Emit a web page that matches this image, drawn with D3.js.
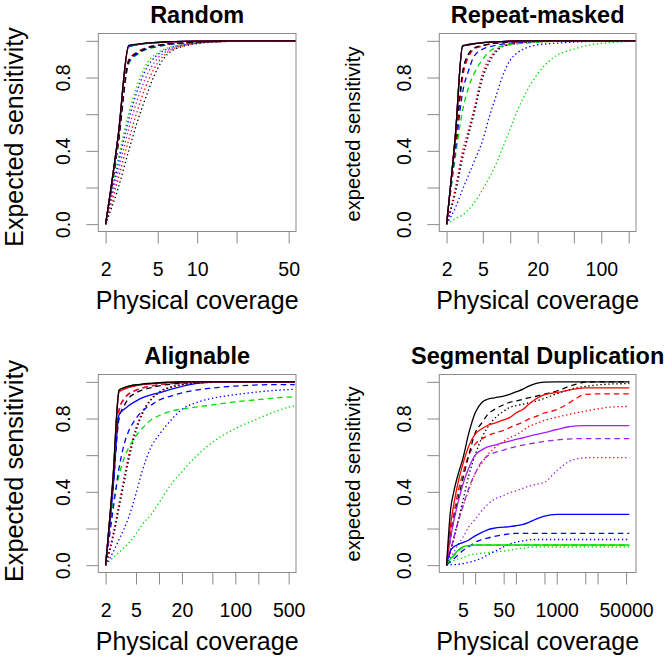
<!DOCTYPE html>
<html><head><meta charset="utf-8">
<script src="https://cdn.jsdelivr.net/npm/d3@7"></script>
<style>
body{margin:0;background:#fff}
svg{display:block}
text{font-family:"Liberation Sans",Arial,Helvetica,sans-serif;fill:#000}
</style>
</head><body>
<svg id="chart" width="672" height="661"></svg>
<script>
// ---------------- DATA ----------------
// colour order of every series array below
const seriesColors = ["black", "red", "purple", "blue", "green"];
const lineTypes = ["solid", "dashed", "dotted"];

const panelTitles = ["Random", "Repeat-masked", "Alignable", "Segmental Duplication"];
const yAxisLabels = ["Expected sensitivity", "expected sensitivity", "Expected sensitivity", "expected sensitivity"];
const xAxisLabel = "Physical coverage";
const yTicks = [0, 0.2, 0.4, 0.6, 0.8, 1];
const yTickLabels = [0, 0.4, 0.8];

// Random
const randomX = [2, 2.5, 3, 3.5, 4, 5, 6, 8, 10, 15, 20, 30, 50, 60];
const randomXTicks = [2, 5, 10, 20, 50];
const randomXTickLabels = [2, 5, 10, 50];
const randomSolid = [
  [0, 0.49, 0.975, 0.982, 0.987, 0.992, 0.995, 0.997, 0.998, 0.999, 1, 1, 1, 1],
  [0, 0.487, 0.972, 0.981, 0.986, 0.991, 0.994, 0.997, 0.998, 0.999, 1, 1, 1, 1],
  [0, 0.487, 0.972, 0.981, 0.986, 0.991, 0.994, 0.997, 0.998, 0.999, 1, 1, 1, 1],
  [0, 0.485, 0.968, 0.979, 0.985, 0.991, 0.994, 0.997, 0.998, 0.999, 1, 1, 1, 1],
  [0, 0.485, 0.968, 0.979, 0.985, 0.991, 0.994, 0.997, 0.998, 0.999, 1, 1, 1, 1]
];
const randomDashed = [
  [0, 0.45, 0.89, 0.935, 0.958, 0.975, 0.983, 0.99, 0.994, 0.998, 0.999, 1, 1, 1],
  [0, 0.45, 0.895, 0.94, 0.96, 0.976, 0.984, 0.99, 0.994, 0.998, 0.999, 1, 1, 1],
  [0, 0.45, 0.893, 0.938, 0.959, 0.975, 0.984, 0.99, 0.994, 0.998, 0.999, 1, 1, 1],
  [0, 0.44, 0.88, 0.93, 0.952, 0.97, 0.98, 0.988, 0.993, 0.997, 0.999, 1, 1, 1],
  [0, 0.44, 0.875, 0.925, 0.95, 0.968, 0.979, 0.988, 0.993, 0.997, 0.999, 1, 1, 1]
];
const randomDotted = [
  [0, 0.2, 0.4, 0.56, 0.68, 0.85, 0.93, 0.972, 0.985, 0.995, 0.998, 1, 1, 1],
  [0, 0.25, 0.46, 0.62, 0.74, 0.88, 0.94, 0.975, 0.987, 0.995, 0.998, 1, 1, 1],
  [0, 0.29, 0.52, 0.68, 0.79, 0.905, 0.948, 0.977, 0.988, 0.996, 0.999, 1, 1, 1],
  [0, 0.33, 0.57, 0.73, 0.835, 0.925, 0.957, 0.98, 0.989, 0.996, 0.999, 1, 1, 1],
  [0, 0.36, 0.6, 0.76, 0.86, 0.935, 0.962, 0.982, 0.99, 0.997, 0.999, 1, 1, 1]
];

// Repeat-masked
const maskedX = [2, 2.5, 3, 3.5, 4, 5, 6, 7, 8, 10, 12, 15, 20, 30, 50, 70, 100, 150, 200, 250];
const maskedXTicks = [2, 5, 10, 20, 50, 100, 200];
const maskedXTickLabels = [2, 5, 20, 100];
const maskedSolid = [
  [0, 0.487, 0.974, 0.98, 0.985, 0.99, 0.993, 0.995, 0.996, 0.998, 0.999, 1, 1, 1, 1, 1, 1, 1, 1, 1],
  [0, 0.487, 0.974, 0.98, 0.985, 0.99, 0.993, 0.995, 0.996, 0.998, 0.999, 1, 1, 1, 1, 1, 1, 1, 1, 1],
  [0, 0.487, 0.974, 0.98, 0.985, 0.99, 0.993, 0.995, 0.996, 0.998, 0.999, 1, 1, 1, 1, 1, 1, 1, 1, 1],
  [0, 0.485, 0.97, 0.978, 0.984, 0.99, 0.993, 0.995, 0.996, 0.998, 0.999, 1, 1, 1, 1, 1, 1, 1, 1, 1],
  [0, 0.485, 0.97, 0.978, 0.984, 0.99, 0.993, 0.995, 0.996, 0.998, 0.999, 1, 1, 1, 1, 1, 1, 1, 1, 1]
];
const maskedDashed = [
  [0, 0.45, 0.83, 0.93, 0.96, 0.975, 0.984, 0.988, 0.99, 0.994, 0.996, 0.997, 0.998, 1, 1, 1, 1, 1, 1, 1],
  [0, 0.43, 0.8, 0.915, 0.955, 0.972, 0.982, 0.987, 0.99, 0.993, 0.995, 0.997, 0.998, 1, 1, 1, 1, 1, 1, 1],
  [0, 0.44, 0.82, 0.925, 0.958, 0.974, 0.983, 0.987, 0.99, 0.994, 0.996, 0.997, 0.998, 1, 1, 1, 1, 1, 1, 1],
  [0, 0.4, 0.72, 0.84, 0.915, 0.955, 0.968, 0.976, 0.981, 0.988, 0.991, 0.994, 0.997, 0.999, 1, 1, 1, 1, 1, 1],
  [0, 0.37, 0.62, 0.75, 0.82, 0.9, 0.945, 0.962, 0.97, 0.979, 0.984, 0.988, 0.993, 0.997, 0.999, 1, 1, 1, 1, 1]
];
const maskedDotted = [
  [0, 0.17, 0.36, 0.49, 0.6, 0.8, 0.89, 0.94, 0.965, 0.98, 0.986, 0.991, 0.995, 0.998, 1, 1, 1, 1, 1, 1],
  [0, 0.2, 0.4, 0.52, 0.63, 0.83, 0.91, 0.95, 0.97, 0.982, 0.987, 0.992, 0.995, 0.998, 1, 1, 1, 1, 1, 1],
  [0, 0.19, 0.38, 0.505, 0.615, 0.815, 0.9, 0.945, 0.968, 0.981, 0.987, 0.992, 0.995, 0.998, 1, 1, 1, 1, 1, 1],
  [0, 0.09, 0.19, 0.27, 0.34, 0.46, 0.6, 0.7, 0.79, 0.895, 0.935, 0.962, 0.978, 0.986, 0.993, 0.996, 0.998, 1, 1, 1],
  [0, 0.03, 0.05, 0.08, 0.115, 0.19, 0.26, 0.33, 0.4, 0.52, 0.62, 0.72, 0.82, 0.91, 0.955, 0.975, 0.986, 0.993, 0.997, 0.998]
];

// Alignable
const alignX = [2, 2.5, 3, 3.5, 4, 5, 6, 8, 10, 15, 20, 30, 50, 70, 100, 200, 300, 500, 600];
const alignXTicks = [2, 5, 10, 20, 50, 100, 200, 500];
const alignXTickLabels = [2, 5, 20, 100, 500];
const alignSolid = [
  [0, 0.477, 0.955, 0.968, 0.976, 0.984, 0.988, 0.992, 0.995, 0.998, 0.999, 1, 1, 1, 1, 1, 1, 1, 1],
  [0, 0.472, 0.945, 0.96, 0.97, 0.98, 0.985, 0.99, 0.994, 0.997, 0.999, 1, 1, 1, 1, 1, 1, 1, 1],
  [0, 0.472, 0.945, 0.96, 0.97, 0.98, 0.985, 0.99, 0.994, 0.997, 0.999, 1, 1, 1, 1, 1, 1, 1, 1],
  [0, 0.41, 0.82, 0.85, 0.87, 0.895, 0.912, 0.93, 0.94, 0.962, 0.975, 0.99, 0.998, 1, 1, 1, 1, 1, 1],
  [0, 0.477, 0.955, 0.968, 0.976, 0.984, 0.988, 0.992, 0.995, 0.998, 0.999, 1, 1, 1, 1, 1, 1, 1, 1]
];
const alignDashed = [
  [0, 0.42, 0.8, 0.87, 0.91, 0.94, 0.955, 0.968, 0.978, 0.988, 0.993, 0.997, 1, 1, 1, 1, 1, 1, 1],
  [0, 0.44, 0.85, 0.91, 0.935, 0.955, 0.967, 0.978, 0.985, 0.992, 0.995, 0.998, 1, 1, 1, 1, 1, 1, 1],
  [0, 0.44, 0.84, 0.905, 0.932, 0.953, 0.965, 0.977, 0.984, 0.991, 0.995, 0.998, 1, 1, 1, 1, 1, 1, 1],
  [0, 0.3, 0.53, 0.66, 0.73, 0.8, 0.84, 0.875, 0.9, 0.925, 0.94, 0.955, 0.966, 0.972, 0.977, 0.983, 0.985, 0.985, 0.985],
  [0, 0.33, 0.49, 0.585, 0.64, 0.705, 0.745, 0.795, 0.815, 0.842, 0.852, 0.862, 0.874, 0.882, 0.891, 0.903, 0.91, 0.917, 0.919]
];
const alignDotted = [
  [0, 0.15, 0.31, 0.45, 0.57, 0.73, 0.82, 0.905, 0.94, 0.973, 0.984, 0.992, 0.997, 1, 1, 1, 1, 1, 1],
  [0, 0.17, 0.34, 0.48, 0.6, 0.75, 0.83, 0.91, 0.945, 0.975, 0.985, 0.993, 0.998, 1, 1, 1, 1, 1, 1],
  [0, 0.16, 0.33, 0.47, 0.59, 0.745, 0.828, 0.908, 0.943, 0.974, 0.985, 0.993, 0.998, 1, 1, 1, 1, 1, 1],
  [0, 0.07, 0.14, 0.2, 0.26, 0.39, 0.51, 0.65, 0.71, 0.8, 0.85, 0.885, 0.91, 0.921, 0.93, 0.945, 0.952, 0.958, 0.96],
  [0, 0.04, 0.07, 0.095, 0.12, 0.17, 0.22, 0.28, 0.34, 0.45, 0.51, 0.59, 0.67, 0.71, 0.745, 0.8, 0.83, 0.862, 0.87]
];

// Segmental Duplication
const segX = [2, 2.5, 3, 4, 5, 7, 10, 15, 20, 30, 50, 70, 100, 150, 200, 300, 500, 1000, 2000, 3000, 5000, 10000, 20000, 60000];
const segXTicks = [5, 10, 50, 100, 500, 1000, 5000, 10000, 50000];
const segXTickLabels = [5, 50, 1000, 50000];
const segSolid = [
  [0, 0.3, 0.4, 0.51, 0.58, 0.72, 0.83, 0.89, 0.905, 0.913, 0.922, 0.932, 0.945, 0.96, 0.975, 0.99, 0.998, 1, 1, 1, 1, 1, 1, 1],
  [0, 0.22, 0.33, 0.47, 0.55, 0.65, 0.715, 0.745, 0.762, 0.775, 0.792, 0.805, 0.83, 0.85, 0.875, 0.905, 0.93, 0.942, 0.955, 0.962, 0.967, 0.967, 0.967, 0.967],
  [0, 0.15, 0.24, 0.36, 0.44, 0.53, 0.6, 0.63, 0.645, 0.655, 0.668, 0.677, 0.686, 0.695, 0.703, 0.712, 0.723, 0.74, 0.755, 0.76, 0.761, 0.761, 0.761, 0.761],
  [0, 0.08, 0.1, 0.115, 0.123, 0.137, 0.16, 0.18, 0.193, 0.202, 0.207, 0.21, 0.215, 0.222, 0.232, 0.25, 0.268, 0.277, 0.277, 0.277, 0.277, 0.277, 0.277, 0.277],
  [0, 0.035, 0.055, 0.085, 0.1, 0.107, 0.11, 0.11, 0.11, 0.11, 0.11, 0.11, 0.11, 0.11, 0.11, 0.11, 0.11, 0.11, 0.11, 0.11, 0.11, 0.11, 0.11, 0.11]
];
const segDashed = [
  [0, 0.15, 0.25, 0.38, 0.47, 0.6, 0.72, 0.78, 0.82, 0.85, 0.875, 0.888, 0.896, 0.905, 0.912, 0.92, 0.933, 0.95, 0.975, 0.987, 0.998, 1, 1, 1],
  [0, 0.18, 0.28, 0.42, 0.5, 0.6, 0.66, 0.69, 0.705, 0.72, 0.735, 0.75, 0.765, 0.78, 0.795, 0.81, 0.83, 0.848, 0.885, 0.91, 0.932, 0.934, 0.934, 0.934],
  [0, 0.08, 0.15, 0.25, 0.32, 0.42, 0.5, 0.57, 0.595, 0.614, 0.628, 0.638, 0.647, 0.655, 0.66, 0.667, 0.675, 0.683, 0.688, 0.69, 0.69, 0.69, 0.69, 0.69],
  [0, 0.02, 0.035, 0.06, 0.08, 0.1, 0.125, 0.14, 0.148, 0.157, 0.166, 0.171, 0.173, 0.173, 0.173, 0.173, 0.173, 0.173, 0.173, 0.173, 0.173, 0.173, 0.173, 0.173],
  [0, 0.03, 0.05, 0.08, 0.095, 0.105, 0.109, 0.109, 0.109, 0.109, 0.109, 0.109, 0.109, 0.109, 0.109, 0.109, 0.109, 0.109, 0.109, 0.109, 0.109, 0.109, 0.109, 0.109]
];
const segDotted = [
  [0, 0.08, 0.15, 0.26, 0.35, 0.49, 0.6, 0.7, 0.75, 0.8, 0.84, 0.86, 0.87, 0.878, 0.885, 0.894, 0.91, 0.935, 0.956, 0.967, 0.975, 0.983, 0.988, 0.99],
  [0, 0.07, 0.14, 0.25, 0.32, 0.41, 0.5, 0.56, 0.6, 0.64, 0.675, 0.695, 0.71, 0.735, 0.755, 0.77, 0.79, 0.807, 0.822, 0.83, 0.84, 0.852, 0.862, 0.866],
  [0, 0.04, 0.07, 0.12, 0.15, 0.21, 0.25, 0.3, 0.33, 0.36, 0.38, 0.395, 0.405, 0.42, 0.43, 0.44, 0.452, 0.515, 0.565, 0.58, 0.586, 0.587, 0.587, 0.587],
  [0, 0.002, 0.003, 0.005, 0.008, 0.015, 0.025, 0.04, 0.055, 0.075, 0.1, 0.115, 0.125, 0.133, 0.137, 0.14, 0.14, 0.14, 0.14, 0.14, 0.14, 0.14, 0.14, 0.14],
  [0, 0.015, 0.025, 0.035, 0.04, 0.055, 0.06, 0.065, 0.068, 0.072, 0.077, 0.082, 0.088, 0.093, 0.097, 0.1, 0.1, 0.1, 0.1, 0.1, 0.1, 0.1, 0.1, 0.1]
];

// x-axis limits (data range) per panel
const xLimits = [[2, 50], [2, 200], [2, 500], [2, 58000]];

// ---------------- LAYOUT / STYLE ----------------
const colorHex = { black: "#000000", red: "#FF0000", purple: "#A020F0", blue: "#0000FF", green: "#00DD00" };
const dashOf = { solid: null, dashed: "5.5,4", dotted: "1.4,2.6" };

const boxes = [
  { l: 98.3, r: 296, t: 33.5, b: 231.5, ylx: 22.5, yly: 137, yls: 25 },
  { l: 439.3, r: 636, t: 33.5, b: 231.5, ylx: 359.5, yly: 134, yls: 20.2 },
  { l: 98.3, r: 296, t: 374.5, b: 572.5, ylx: 22.5, yly: 471, yls: 25.3 },
  { l: 439.3, r: 636, t: 374.5, b: 572.5, ylx: 359.5, yly: 474, yls: 20.2 }
];

const panels = [
  { x: randomX, series: [randomSolid, randomDashed, randomDotted], ticks: randomXTicks, labels: randomXTickLabels },
  { x: maskedX, series: [maskedSolid, maskedDashed, maskedDotted], ticks: maskedXTicks, labels: maskedXTickLabels },
  { x: alignX, series: [alignSolid, alignDashed, alignDotted], ticks: alignXTicks, labels: alignXTickLabels },
  { x: segX, series: [segSolid, segDashed, segDotted], ticks: segXTicks, labels: segXTickLabels }
];

const svg = d3.select("#chart");
const GRAY = "#8a8a8a";

panels.forEach((p, i) => {
  const bx = boxes[i];
  const w = bx.r - bx.l, h = bx.b - bx.t;
  const padX = w * 0.04 / 1.08, padY = h * 0.04 / 1.08;
  const x = d3.scaleLog().domain(xLimits[i]).range([bx.l + padX, bx.r - padX]);
  const y = d3.scaleLinear().domain([0, 1]).range([bx.b - padY, bx.t + padY]);
  const g = svg.append("g");

  const clipId = "clip" + i;
  svg.append("clipPath").attr("id", clipId)
    .append("rect").attr("x", bx.l).attr("y", bx.t).attr("width", w).attr("height", h);

  const line = d3.line().x(d => x(d[0])).y(d => y(d[1])).curve(d3.curveMonotoneX);
  const lg = g.append("g").attr("clip-path", `url(#${clipId})`);

  // draw dotted, then dashed, then solid; colours green..black so black ends on top
  const typeOrder = [2, 1, 0];
  const colorOrder = [4, 3, 2, 1, 0];
  typeOrder.forEach(ti => {
    colorOrder.forEach(ci => {
      const vals = p.series[ti][ci];
      const pts = p.x.map((xv, k) => [xv, vals[k]]);
      const path = lg.append("path")
        .attr("d", line(pts))
        .attr("fill", "none")
        .attr("stroke", colorHex[seriesColors[ci]])
        .attr("stroke-width", 1.3);
      const da = dashOf[lineTypes[ti]];
      if (da) path.attr("stroke-dasharray", da);
    });
  });

  // box
  g.append("rect").attr("x", bx.l).attr("y", bx.t).attr("width", w).attr("height", h)
    .attr("fill", "none").attr("stroke", GRAY).attr("stroke-width", 1);

  // x axis
  const xa = g.append("g").attr("transform", `translate(0,${bx.b})`)
    .call(d3.axisBottom(x).tickValues(p.ticks).tickSize(12)
      .tickFormat(d => p.labels.includes(d) ? String(d) : ""));
  xa.select(".domain").remove();
  xa.selectAll(".tick line").attr("stroke", GRAY);
  xa.selectAll(".tick text").attr("y", 44.5).attr("dy", 0)
    .attr("font-size", 19.5).attr("fill", "#000")
    .attr("font-family", "'Liberation Sans', Arial, sans-serif");

  // y axis
  const ya = g.append("g").attr("transform", `translate(${bx.l},0)`)
    .call(d3.axisLeft(y).tickValues(yTicks).tickSize(12)
      .tickFormat(d => yTickLabels.includes(d) ? d.toFixed(1) : ""));
  ya.select(".domain").remove();
  ya.selectAll(".tick line").attr("stroke", GRAY);
  ya.selectAll(".tick text")
    .attr("x", 0).attr("y", 0).attr("dy", 0)
    .attr("transform", "translate(-28,0) rotate(-90)")
    .attr("text-anchor", "middle")
    .attr("font-size", 19.5).attr("fill", "#000")
    .attr("font-family", "'Liberation Sans', Arial, sans-serif");

  const cx = (bx.l + bx.r) / 2;
  // title
  g.append("text").attr("x", cx).attr("y", bx.t - 10.5)
    .attr("text-anchor", "middle").attr("font-size", 23.5).attr("font-weight", "bold")
    .text(panelTitles[i]);
  // x label
  g.append("text").attr("x", cx).attr("y", bx.b + 77.5)
    .attr("text-anchor", "middle").attr("font-size", 25)
    .text(xAxisLabel);
  // y label
  g.append("text").attr("transform", `translate(${bx.ylx},${bx.yly}) rotate(-90)`)
    .attr("text-anchor", "middle").attr("font-size", bx.yls)
    .text(yAxisLabels[i]);
});
</script>
</body></html>
